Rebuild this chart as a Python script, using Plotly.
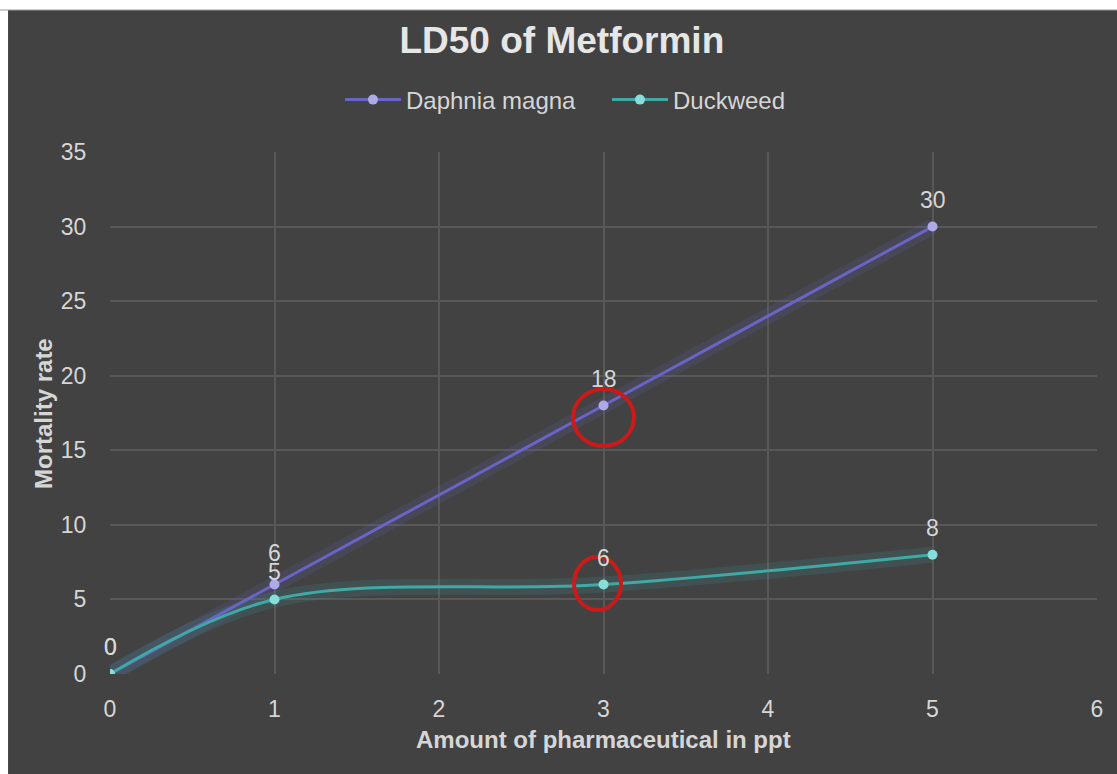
import plotly.graph_objects as go

# ---- data ----
x_amount = [0, 1, 3, 5]
daphnia = [0, 6, 18, 30]
duckweed = [0, 5, 6, 8]
series_names = ["Daphnia magna", "Duckweed"]
x_ticks = [0, 1, 2, 3, 4, 5, 6]
y_ticks = [0, 5, 10, 15, 20, 25, 30, 35]
highlight_x = 3

BG = "#424242"
GRID = "#585858"
TXT = "#d6d6d6"
FONT = "Liberation Sans, Arial, sans-serif"
C_D = "#6a64c6"
C_D_M = "#aeaae8"
C_W = "#3fa9a6"
C_W_M = "#86ddd9"

fig = go.Figure()

# soft glow under lines
for ys, col in [(daphnia, "rgba(106,100,198,0.15)"), (duckweed, "rgba(63,169,166,0.15)")]:
    fig.add_trace(go.Scatter(x=x_amount, y=ys, mode="lines",
                             line=dict(color=col, width=16, shape="spline", smoothing=1),
                             showlegend=False, hoverinfo="skip"))

fig.add_trace(go.Scatter(x=x_amount, y=daphnia, mode="lines+markers", name=series_names[0],
                         line=dict(color=C_D, width=3, shape="spline", smoothing=1),
                         marker=dict(color=C_D_M, size=10)))
fig.add_trace(go.Scatter(x=x_amount, y=duckweed, mode="lines+markers", name=series_names[1],
                         line=dict(color=C_W, width=3, shape="spline", smoothing=1),
                         marker=dict(color=C_W_M, size=10)))

# data labels
annotations = []
for ys, extra in [(duckweed, 0), (daphnia, 5)]:
    for xv, yv in zip(x_amount, ys):
        shift = 27 + (extra if xv == 1 else 0)
        annotations.append(dict(x=xv, y=yv, xref="x", yref="y", text=str(yv), showarrow=False,
                                yshift=shift, font=dict(family=FONT, size=23, color=TXT)))

# axis titles
annotations.append(dict(x=0.5, y=-0.1264, xref="paper", yref="paper",
                        text="<b>Amount of pharmaceutical in ppt</b>", showarrow=False,
                        yanchor="middle", font=dict(family=FONT, size=24, color=TXT)))
annotations.append(dict(x=-0.0679, y=0.5, xref="paper", yref="paper",
                        text="<b>Mortality rate</b>", showarrow=False, textangle=-90,
                        xanchor="center", yanchor="middle", font=dict(family=FONT, size=24, color=TXT)))

shapes = [
    # white strips of the screenshot border
    dict(type="rect", xref="paper", yref="paper", x0=-0.12, x1=-0.1033, y0=-0.25, y1=1.35,
         fillcolor="white", line=dict(width=0), layer="below"),
    dict(type="rect", xref="paper", yref="paper", x0=-0.12, x1=1.05, y0=1.272, y1=1.35,
         fillcolor="white", line=dict(color="#999999", width=1), layer="below"),
    # red highlight circles
    dict(type="circle", xref="x", yref="y", xsizemode="pixel", ysizemode="pixel",
         xanchor=highlight_x, yanchor=daphnia[2], x0=-30.5, x1=30.5, y0=-40.5, y1=16.5,
         line=dict(color="#cc1a1a", width=4)),
    dict(type="circle", xref="x", yref="y", xsizemode="pixel", ysizemode="pixel",
         xanchor=highlight_x, yanchor=duckweed[2], x0=-29.5, x1=17.5, y0=-25.5, y1=27.5,
         line=dict(color="#cc1a1a", width=4)),
]

fig.update_layout(
    width=1117, height=774,
    paper_bgcolor=BG, plot_bgcolor=BG,
    margin=dict(l=110, r=20, t=152, b=100),
    title=dict(text="<b>LD50 of Metformin</b>", x=0.503, xref="container", xanchor="center",
               y=0.948, yref="container", yanchor="middle",
               font=dict(family=FONT, size=37, color="#e6e6e6")),
    legend=dict(orientation="h", x=0.233, xanchor="left", y=1.0996, yanchor="middle",
                font=dict(family=FONT, size=24, color=TXT), bgcolor="rgba(0,0,0,0)",
                itemwidth=56, entrywidth=196, entrywidthmode="pixels"),
    showlegend=True,
    annotations=annotations,
    shapes=shapes,
    xaxis=dict(range=[0, 6], tickvals=x_ticks, showgrid=True, gridcolor=GRID, gridwidth=2,
               zeroline=False, showline=False, ticks="outside", ticklen=14,
               tickcolor="rgba(0,0,0,0)", tickfont=dict(family=FONT, size=23, color=TXT)),
    yaxis=dict(range=[0, 35], tickvals=y_ticks, showgrid=True, gridcolor=GRID, gridwidth=2,
               zeroline=False, showline=False, ticks="outside", ticklen=18,
               tickcolor="rgba(0,0,0,0)", tickfont=dict(family=FONT, size=23, color=TXT)),
)

fig.write_html("out.html")
